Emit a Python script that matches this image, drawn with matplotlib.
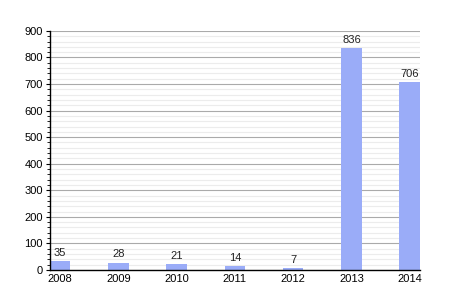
import numpy as np
import matplotlib
matplotlib.use("Agg")
import matplotlib.pyplot as plt
from matplotlib.ticker import MultipleLocator

plt.rcParams['font.family'] = ['Liberation Sans', 'DejaVu Sans']

# data
years = ['2008', '2009', '2010', '2011', '2012', '2013', '2014']
values = [35, 28, 21, 14, 7, 836, 706]

fig = plt.figure(figsize=(4.5, 3), dpi=100)
ax = fig.add_axes([0.111, 0.1, 0.822, 0.797])

x = np.arange(len(years))
bars = ax.bar(x, values, width=0.35, color='#9aacf8', zorder=3)

for xi, v in zip(x, values):
    ax.text(xi, v + 12, str(v), ha='center', va='bottom', fontsize=8, color='#222222')

ax.set_xlim(-0.175, len(years) - 1 + 0.175)
ax.set_ylim(0, 900)
ax.set_xticks(x)
ax.set_xticklabels(years)
ax.yaxis.set_major_locator(MultipleLocator(100))
ax.yaxis.set_minor_locator(MultipleLocator(20))

ax.grid(axis='y', which='major', color='#aaaaaa', linewidth=0.8, zorder=0)
ax.grid(axis='y', which='minor', color='#ececec', linewidth=0.8, zorder=0)

for s in ['top', 'right']:
    ax.spines[s].set_visible(False)
ax.spines['left'].set_linewidth(1.0)
ax.spines['bottom'].set_linewidth(1.0)
ax.spines['left'].set_zorder(4)
ax.spines['bottom'].set_zorder(4)

ax.tick_params(axis='x', length=0, labelsize=8, pad=3)
ax.tick_params(axis='y', which='major', length=3, labelsize=8, pad=2)
ax.tick_params(axis='y', which='minor', length=2)

fig.savefig('out.png', dpi=100)
